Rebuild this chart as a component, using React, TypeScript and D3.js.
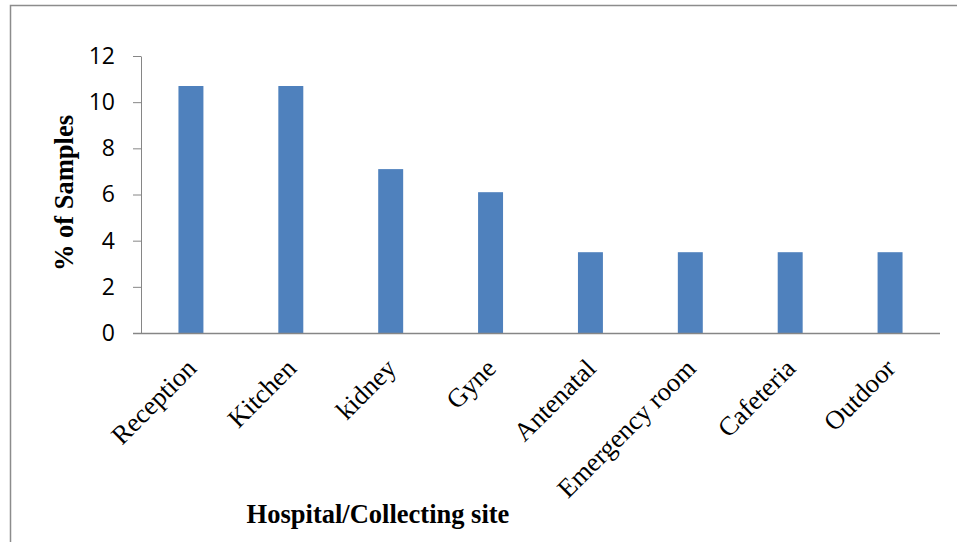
import React, { useEffect, useRef } from 'react';
import * as d3 from 'd3';

const categories = ['Reception', 'Kitchen', 'kidney', 'Gyne', 'Antenatal', 'Emergency room', 'Cafeteria', 'Outdoor'];
const values = [10.7, 10.7, 7.1, 6.1, 3.5, 3.5, 3.5, 3.5];
const yTicks = [0, 2, 4, 6, 8, 10, 12];

const W = 957;
const H = 542;
const serif = '"Liberation Serif", "Times New Roman", serif';

const App: React.FC = () => {
  const svgRef = useRef<SVGSVGElement>(null);

  useEffect(() => {
    if (!svgRef.current) return;
    const svg = d3.select(svgRef.current);
    svg.selectAll('*').remove();

    const margin = { top: 56, right: 17, bottom: 209, left: 141 };
    const innerWidth = W - margin.left - margin.right;
    const innerHeight = H - margin.top - margin.bottom;

    // outer frame
    svg.append('rect')
      .attr('x', 10.5)
      .attr('y', 5.5)
      .attr('width', 960)
      .attr('height', 560)
      .attr('fill', '#fff')
      .attr('stroke', '#8c8c8c')
      .attr('stroke-width', 1.5);

    const g = svg.append('g')
      .attr('transform', `translate(${margin.left},${margin.top})`);

    const xScale = d3.scaleBand()
      .domain(categories)
      .range([0, innerWidth])
      .paddingInner(0.75)
      .paddingOuter(0.375);

    const yScale = d3.scaleLinear()
      .domain([0, 12])
      .range([innerHeight, 0]);

    // bars
    g.selectAll('.bar')
      .data(categories)
      .enter()
      .append('rect')
      .attr('class', 'bar')
      .attr('x', d => xScale(d) || 0)
      .attr('y', (d, i) => yScale(values[i]))
      .attr('width', xScale.bandwidth())
      .attr('height', (d, i) => innerHeight - yScale(values[i]))
      .attr('fill', '#4f81bd');

    // Y axis
    const yAxis = g.append('g')
      .call(d3.axisLeft(yScale).tickValues(yTicks).tickSize(8).tickPadding(18).tickSizeOuter(0));
    yAxis.select('.domain').attr('stroke', '#868686');
    yAxis.selectAll('.tick line').attr('stroke', '#868686');
    yAxis.selectAll('text')
      .style('font-family', '"Open Sans", sans-serif')
      .style('font-size', '23px')
      .attr('fill', '#000');

    // X axis line (extends left to the tick length)
    g.append('line')
      .attr('x1', -8)
      .attr('x2', innerWidth)
      .attr('y1', innerHeight + 0.5)
      .attr('y2', innerHeight + 0.5)
      .attr('stroke', '#868686')
      .attr('stroke-width', 1.5);

    // X labels, rotated
    g.selectAll('.xlabel')
      .data(categories)
      .enter()
      .append('text')
      .attr('class', 'xlabel')
      .attr('transform', d => {
        const cx = (xScale(d) || 0) + xScale.bandwidth() / 2 + 7;
        return `translate(${cx},${innerHeight + 37}) rotate(-45)`;
      })
      .attr('text-anchor', 'end')
      .style('font-family', serif)
      .style('font-size', '26.5px')
      .attr('fill', '#000')
      .text(d => d);

    // axis titles
    svg.append('text')
      .attr('transform', `translate(73,193) rotate(-90)`)
      .attr('text-anchor', 'middle')
      .style('font-family', serif)
      .style('font-size', '26.5px')
      .style('font-weight', 'bold')
      .text('% of Samples');

    svg.append('text')
      .attr('x', 378)
      .attr('y', 523)
      .attr('text-anchor', 'middle')
      .style('font-family', serif)
      .style('font-size', '26.5px')
      .style('font-weight', 'bold')
      .text('Hospital/Collecting site');
  }, []);

  return (
    <div style={{ position: 'absolute', left: 0, top: 0, width: W, height: H, overflow: 'hidden', background: '#fff' }}>
      <svg ref={svgRef} width={W} height={H} style={{ display: 'block' }} />
    </div>
  );
};

export default App;
